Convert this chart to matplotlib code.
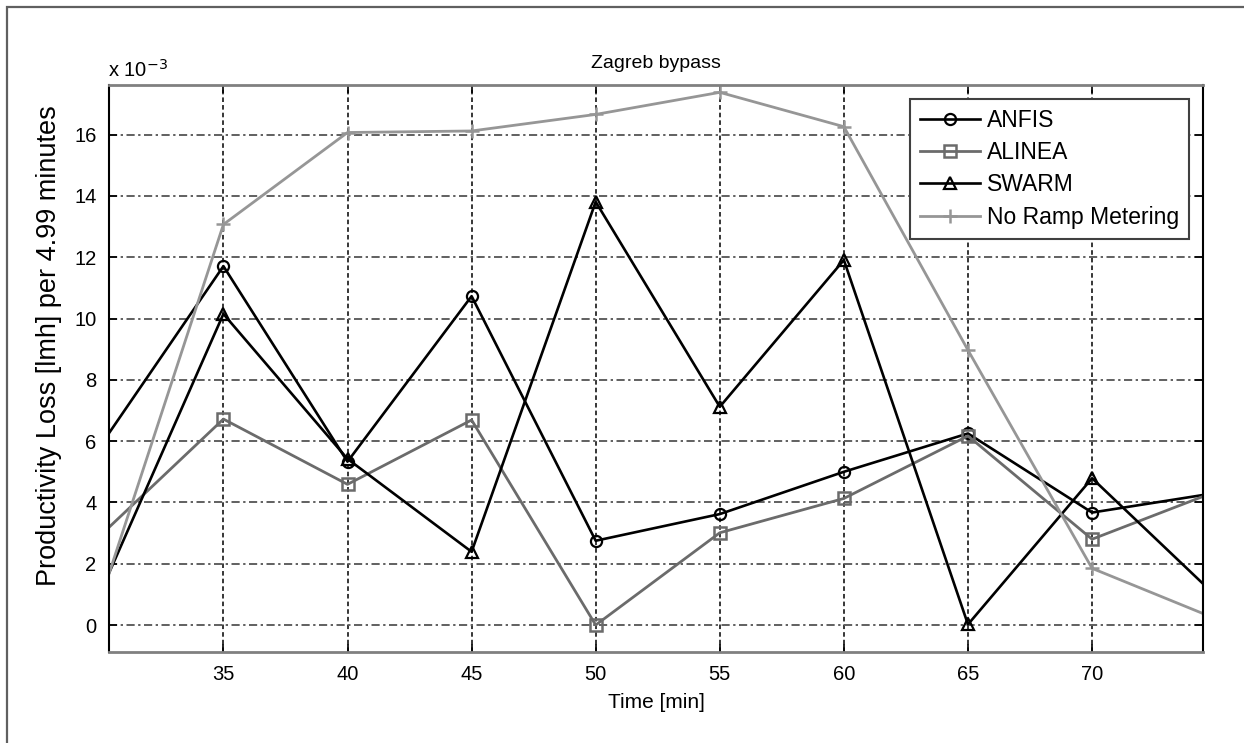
import matplotlib
matplotlib.use("Agg")
import matplotlib.pyplot as plt
from matplotlib.patches import Rectangle

plt.rcParams['font.family'] = ['Liberation Sans', 'DejaVu Sans']

# values, in units of 1e-3
time = [30, 35, 40, 45, 50, 55, 60, 65, 70, 75]
anfis = [5.80, 11.71, 5.33, 10.73, 2.75, 3.62, 5.00, 6.25, 3.67, 4.31]
alinea = [2.89, 6.72, 4.59, 6.69, 0.00, 3.01, 4.13, 6.17, 2.80, 4.36]
swarm = [0.98, 10.15, 5.42, 2.39, 13.81, 7.12, 11.91, 0.02, 4.79, 0.94]
no_ramp = [0.71, 13.07, 16.07, 16.12, 16.66, 17.38, 16.26, 8.97, 1.85, 0.20]

x_ticks = [35, 40, 45, 50, 55, 60, 65, 70]
y_ticks = [0, 2, 4, 6, 8, 10, 12, 14, 16]

fig = plt.figure(figsize=(12.44, 7.43), dpi=100)
ax = fig.add_axes([109 / 1244, 1 - 652 / 743, (1203 - 109) / 1244, (652 - 85) / 743])

# outer frame (only top and left edges visible in the reference)
fig.add_artist(Rectangle((7 / 1244, -0.5), 2, 1.5 - 7 / 743, transform=fig.transFigure,
                         fill=False, edgecolor='#606060', lw=1.6))

ax.plot(time, anfis, color='black', lw=1.9, marker='o', ms=8, mfc='none', mew=1.6, label='ANFIS')
ax.plot(time, alinea, color='#6b6b6b', lw=2.0, marker='s', ms=8.5, mfc='none', mew=1.8, label='ALINEA')
ax.plot(time, swarm, color='black', lw=1.9, marker='^', ms=9, mfc='none', mew=1.6, label='SWARM')
ax.plot(time, no_ramp, color='#969696', lw=2.0, marker='+', ms=10, mew=1.8, label='No Ramp Metering')

ax.set_xlim(30.39, 74.47)
ax.set_ylim(-0.88, 17.62)
ax.set_xticks(x_ticks)
ax.set_yticks(y_ticks)

ax.xaxis.grid(True, color='black', linestyle=(0, (3, 2)), lw=1.1)
ax.yaxis.grid(True, color='#606060', linestyle=(0, (4.2, 1.8, 1.2, 1.8)), lw=1.4)
ax.set_axisbelow(True)

ax.tick_params(direction='in', length=6, width=1.2, top=True, right=True,
               labelsize=14.5, pad=9, colors='black')
for side in ['top', 'bottom']:
    ax.spines[side].set_color('#808080')
    ax.spines[side].set_linewidth(2)
for side in ['left', 'right']:
    ax.spines[side].set_color('black')
    ax.spines[side].set_linewidth(1.5)

ax.set_xlabel('Time [min]', fontsize=15, labelpad=7)
ax.set_ylabel('Productivity Loss [lmh] per 4.99 minutes', fontsize=19.5)
ax.yaxis.set_label_coords(-0.043, 0.54)
ax.set_title('Zagreb bypass', fontsize=14, pad=12)
fig.text(108 / 1244, 1 - 77 / 743, r'x 10$^{-3}$', fontsize=14.5, va='baseline', ha='left')

leg = ax.legend(loc='upper right', fontsize=16.5, numpoints=1, handlelength=2.6,
                handletextpad=0.3, labelspacing=0.4, borderaxespad=0.6,
                borderpad=0.45, fancybox=False, framealpha=1, edgecolor='#404040')
leg.get_frame().set_linewidth(1.5)

fig.savefig('out.png', dpi=100)
